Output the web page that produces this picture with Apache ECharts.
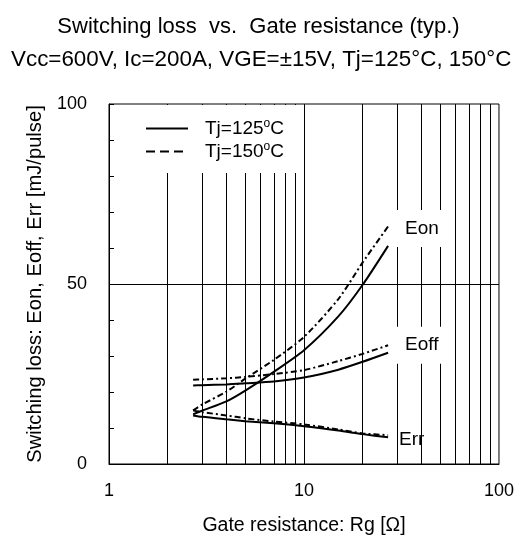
<!DOCTYPE html>
<html>
<head>
<meta charset="utf-8">
<script src="https://cdn.jsdelivr.net/npm/echarts@6/dist/echarts.min.js"></script>
<style>html,body{margin:0;padding:0;background:#fff}#c{width:517px;height:541px}</style>
</head>
<body>
<div id="c"></div>
<script>
const rg = [2.7, 3, 4, 5, 7, 10, 15, 20, 27];
const eon125 = [13.8, 14.8, 17.4, 20.4, 25.6, 31.6, 41.0, 49.8, 60.6];
const eon150 = [14.9, 16.5, 20.1, 23.7, 28.9, 35.3, 45.8, 56, 66];
const eoff125 = [21.8, 21.9, 22.1, 22.4, 22.9, 24.0, 26.2, 28.4, 30.9];
const eoff150 = [23.4, 23.5, 23.8, 24.2, 25.0, 26.1, 28.6, 30.6, 33];
const err125 = [13.5, 13.1, 12.4, 11.9, 11.3, 10.5, 9.3, 8.3, 7.4];
const err150 = [14.9, 14.4, 13.5, 12.7, 11.8, 11.0, 9.6, 8.5, 8.0];
const gridX = [2, 3, 4, 5, 6, 7, 8, 9, 10, 20, 30, 40, 50, 60, 70, 80, 90];
const gridY = [50];
const yLabels = [0, 50, 100];
const name125 = 'Tj=125°C';
const name150 = 'Tj=150°C';

const FONT = "'Liberation Sans', Arial, sans-serif";
const pts = arr => rg.map((x, i) => [x, arr[i]]);
const dashPat = [6, 3, 2, 3];

function curve(name, arr, dashed, label, offset, bg) {
  const s = {
    name: name, type: 'line', data: pts(arr), smooth: 0.25,
    symbol: 'none', showSymbol: false, z: 3, silent: true, color: '#000',
    lineStyle: { color: '#000', width: 2, type: dashed ? dashPat : 'solid' }
  };
  if (label) {
    s.endLabel = {
      show: true, formatter: label, color: '#000', fontSize: 19, fontFamily: FONT,
      distance: 6, offset: offset,
      backgroundColor: bg ? '#fff' : 'transparent', padding: [9, 9]
    };
  }
  return s;
}

const chart = echarts.init(document.getElementById('c'), null, { renderer: 'canvas' });
chart.setOption({
  animation: false,
  backgroundColor: '#fff',
  textStyle: { fontFamily: FONT, color: '#000' },
  title: [
    { text: 'Switching loss  vs.  Gate resistance (typ.)', left: 'center', top: 11,
      textStyle: { fontSize: 22, fontWeight: 'normal', color: '#000', fontFamily: FONT } },
    { text: 'Vcc=600V, Ic=200A, VGE=±15V, Tj=125°C, 150°C', left: 6, top: 44,
      textStyle: { fontSize: 22.4, fontWeight: 'normal', color: '#000', fontFamily: FONT } }
  ],
  grid: { left: 109, right: 17, top: 104, bottom: 73, show: true, borderColor: '#000', borderWidth: 1, backgroundColor: 'transparent' },
  legend: {
    orient: 'vertical', left: 136, top: 105, itemWidth: 42, itemHeight: 14, itemGap: 3,
    backgroundColor: '#fff', padding: [13, 12, 12, 9], z: 10,
    itemStyle: { opacity: 0, borderWidth: 0 },
    data: [
      { name: name125, lineStyle: { color: '#000', width: 2, type: 'solid' } },
      { name: name150, lineStyle: { color: '#000', width: 2, type: [9, 5] } }
    ],
    formatter: n => '{g|}' + n.replace('°', '{s|o}'),
    textStyle: {
      fontSize: 19, fontFamily: FONT, color: '#000',
      rich: { g: { width: 12 }, s: { fontSize: 12, padding: [0, 0, 9, 0], fontFamily: FONT, color: '#000' } }
    }
  },
  xAxis: {
    type: 'log', logBase: 10, min: 1, max: 100,
    name: 'Gate resistance: Rg [Ω]', nameLocation: 'middle', nameGap: 52,
    nameTextStyle: { fontSize: 19.5, fontFamily: FONT, color: '#000' },
    axisLine: { lineStyle: { color: '#000', width: 1 } },
    axisTick: { show: false },
    splitLine: { show: false },
    axisLabel: { fontSize: 18, fontFamily: FONT, color: '#000', margin: 18 }
  },
  yAxis: {
    type: 'value', min: 0, max: 100, interval: 10,
    name: 'Switching loss: Eon, Eoff, Err [mJ/pulse]', nameLocation: 'middle', nameGap: 64,
    nameTextStyle: { fontSize: 20.2, fontFamily: FONT, color: '#000' },
    axisLine: { lineStyle: { color: '#000', width: 1 } },
    axisTick: { show: true, inside: true, length: 5, lineStyle: { color: '#000' } },
    splitLine: { show: false },
    axisLabel: { fontSize: 18, fontFamily: FONT, color: '#000', margin: 22,
      formatter: v => (yLabels.indexOf(v) >= 0 ? String(v) : '') }
  },
  series: [
    {
      name: 'grid', type: 'line', data: [], z: 1, silent: true,
      markLine: {
        silent: true, symbol: 'none', label: { show: false }, animation: false, z: 1,
        lineStyle: { color: '#000', width: 1, type: 'solid' },
        data: gridX.map(v => ({ xAxis: v })).concat(gridY.map(v => ({ yAxis: v })))
      }
    },
    curve(name125, eon125, false),
    curve(name150, eon150, true, 'Eon', [2, 2], true),
    curve(name125, eoff125, false),
    curve(name150, eoff150, true, 'Eoff', [2, 0], true),
    curve(name125, err125, false),
    curve(name150, err150, true, 'Err', [-4, 5], false)
  ]
});
</script>
</body>
</html>
